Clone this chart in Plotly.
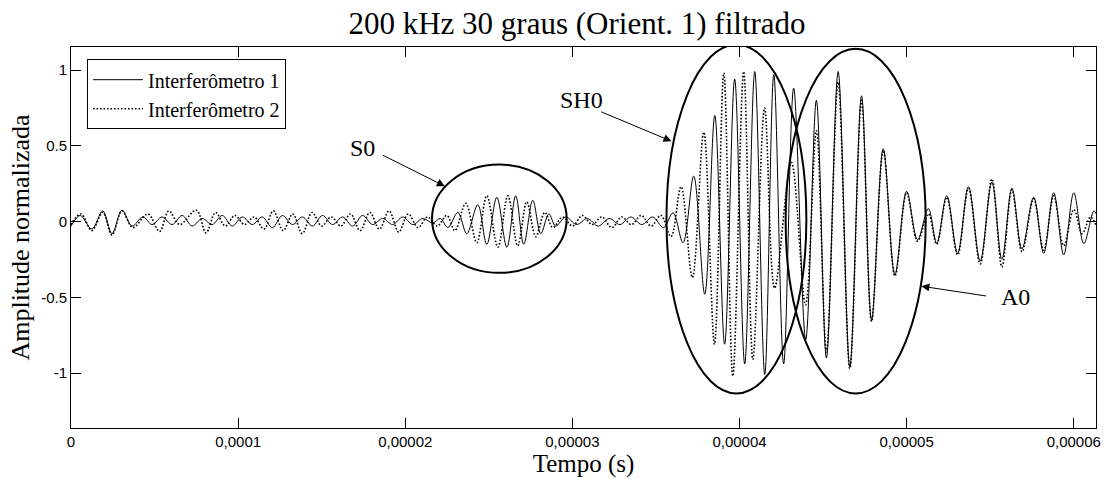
import numpy as np
import plotly.graph_objects as go

# ---- Data (time in microseconds, normalised amplitude) ----
# Interferômetro 1 (solid) – local extrema of the trace
t1_us = [0.0, 0.55, 1.25, 1.9, 2.45, 3.05, 3.65, 4.3, 4.85, 5.45, 6.05, 6.65, 7.25, 7.85,
         8.45, 9.05, 9.65, 10.25, 10.85, 11.45, 12.05, 12.65, 13.25, 13.85, 14.45, 15.05,
         15.65, 16.25, 16.85, 17.45, 18.05, 18.65, 19.25, 19.85, 20.45, 21.05, 21.65, 22.1,
         22.55, 23.15, 23.68, 24.34, 24.88, 25.48, 26.08, 26.61, 27.09, 27.63, 28.11, 28.59, 29.0,
         29.6, 30.25, 30.9, 31.55, 32.2, 32.85, 33.5, 34.15, 34.8, 35.45,
         36.02, 36.62, 37.26, 37.92, 38.52, 39.11, 39.71, 40.31, 40.91, 41.51,
         42.05, 42.64, 43.24, 43.96, 44.6, 45.2, 45.9, 46.6, 47.3, 47.9,
         48.6, 49.3, 50.0, 50.65, 51.3, 51.8, 52.4, 53.05, 53.7, 54.4,
         55.1, 55.7, 56.3, 56.9, 57.6, 58.2, 58.8, 59.4, 60.0, 60.6, 61.2, 61.35]
a1 = [-0.03, 0.04, -0.05, 0.07, -0.08, 0.075, -0.03, 0.03, -0.02, 0.03, -0.02, 0.04, -0.03, 0.02,
      -0.02, 0.04, -0.03, 0.03, -0.02, 0.03, -0.04, 0.04, -0.02, 0.03, -0.03, 0.04,
      -0.02, 0.03, -0.03, 0.04, -0.02, 0.02, -0.02, 0.03, -0.02, 0.02, -0.01, 0.02,
      -0.04, 0.06, -0.08, 0.11, -0.15, 0.16, -0.17, 0.17, -0.15, 0.14, -0.08, 0.05, -0.03,
      0.03, -0.02, 0.02, -0.03, 0.02, -0.02, 0.03, -0.02, 0.03, -0.04,
      0.057, -0.14, 0.30, -0.48, 0.70, -0.81, 0.94, -0.94, 0.99, -1.01,
      0.97, -0.94, 0.88, -0.78, 0.80, -0.90, 0.99, -0.96, 0.83, -0.65,
      0.48, -0.35, 0.20, -0.12, 0.085, -0.145, 0.17, -0.21, 0.23, -0.26,
      0.26, -0.25, 0.22, -0.18, 0.16, -0.21, 0.19, -0.22, 0.19, -0.145, 0.07, 0.05]

# Interferômetro 2 (dotted) – local extrema of the trace
t2_us = [0.0, 0.6, 1.25, 1.9, 2.45, 3.05, 3.7, 4.6, 5.3, 5.85, 6.5, 7.5,
         8.08, 8.65, 9.23, 9.81, 10.38, 10.96, 11.54, 12.11, 12.69, 13.27, 13.84, 14.42, 15.0,
         15.57, 16.15, 16.72, 17.30, 17.88, 18.45, 19.03, 19.61, 20.18, 20.76, 21.34, 21.91,
         22.49, 22.97, 23.62, 24.28, 24.88, 25.54, 26.14, 26.73, 27.27, 27.81, 28.35, 28.83,
         29.42, 30.01, 30.6, 31.18, 31.77, 32.36, 32.95, 33.54, 34.12, 34.71, 35.3,
         35.9, 36.5, 37.18, 37.86, 38.5, 39.06, 39.6, 40.25, 40.8, 41.5,
         42.1, 43.1, 43.95, 44.6, 45.2, 45.9, 46.6, 47.3, 47.9, 48.6,
         49.3, 50.0, 50.65, 51.3, 51.8, 52.4, 53.05, 53.7, 54.4, 55.1,
         55.7, 56.3, 56.9, 57.6, 58.2, 58.8, 59.4, 60.0, 60.5, 61.0, 61.35]
a2 = [-0.02, 0.05, -0.06, 0.06, -0.09, 0.07, -0.04, 0.05, -0.065, 0.07, -0.02, 0.075,
      -0.075, 0.06, -0.03, 0.04, -0.02, 0.03, -0.05, 0.07, -0.06, 0.05, -0.08, 0.06, -0.03,
      0.03, -0.03, 0.05, -0.06, 0.06, -0.05, 0.07, -0.07, 0.05, -0.04, 0.03, -0.03,
      0.04, -0.06, 0.12, -0.14, 0.17, -0.17, 0.17, -0.16, 0.13, -0.10, 0.06, -0.04,
      0.03, -0.03, 0.04, -0.02, 0.03, -0.04, 0.03, -0.02, 0.04, -0.03, 0.04,
      -0.10, 0.23, -0.37, 0.59, -0.81, 0.98, -1.02, 0.99, -0.91, 0.75,
      -0.44, 0.39, -0.55, 0.60, -0.86, 0.92, -0.97, 0.80, -0.66, 0.47,
      -0.36, 0.19, -0.13, 0.05, -0.15, 0.16, -0.22, 0.22, -0.28, 0.28,
      -0.30, 0.21, -0.20, 0.15, -0.19, 0.17, -0.16, 0.08, -0.08, 0.03, -0.03]

series_names = ["Interferômetro 1", "Interferômetro 2"]

x_tickvals = [0, 1e-5, 2e-5, 3e-5, 4e-5, 5e-5, 6e-5]
x_ticktext = ["0", "0,0001", "0,00002", "0,00003", "0,00004", "0,00005", "0,00006"]
y_tickvals = [-1, -0.5, 0, 0.5, 1]
y_ticktext = ["-1", "-0.5", "0", "0.5", "1"]

# Annotation ellipses (mode groups), in microseconds / amplitude
ellipse_labels = ["S0", "SH0", "A0"]
ellipse_t = [(21.6, 29.66), (35.63, 44.0), (42.76, 51.14)]
ellipse_a = [(-0.339, 0.376), (-1.135, 1.168), (-1.135, 1.14)]
label_pos = [(17.46, 0.488), (30.56, 0.805), (56.52, -0.495)]
arrow_tail = [(18.58, 0.442), (31.64, 0.728), (54.84, -0.493)]
arrow_head = [(22.37, 0.233), (35.93, 0.53), (50.88, -0.427)]

assert len(t1_us) == len(a1) and len(t2_us) == len(a2)
US = 1e-6

fig = go.Figure()
fig.add_trace(go.Scatter(x=np.array(t1_us) * US, y=a1, mode="lines", name=series_names[0],
                         line=dict(color="black", width=1, shape="spline", smoothing=1.0)))
fig.add_trace(go.Scatter(x=np.array(t2_us) * US, y=a2, mode="lines", name=series_names[1],
                         line=dict(color="black", width=1.6, dash="1.6px,1.9px",
                                   shape="spline", smoothing=1.0)))

shapes = []
for (t0, t1), (y0, y1) in zip(ellipse_t, ellipse_a):
    shapes.append(dict(type="circle", xref="x", yref="y", x0=t0 * US, x1=t1 * US,
                       y0=y0, y1=y1, line=dict(color="black", width=2)))

annotations = []
for lab, (lx, ly) in zip(ellipse_labels, label_pos):
    annotations.append(dict(x=lx * US, y=ly, xref="x", yref="y", text=lab, showarrow=False,
                            font=dict(family="Liberation Serif", size=24, color="black")))
for (hx, hy), (tx, ty) in zip(arrow_head, arrow_tail):
    annotations.append(dict(x=hx * US, y=hy, ax=tx * US, ay=ty, xref="x", yref="y",
                            axref="x", ayref="y", text="", showarrow=True, arrowhead=2,
                            arrowsize=1.6, arrowwidth=1, arrowcolor="black"))

tickfont = dict(family="Liberation Sans", size=15, color="black")
fig.update_layout(
    width=1105, height=479,
    margin=dict(l=71, r=9, t=47, b=51),
    paper_bgcolor="white", plot_bgcolor="white",
    title=dict(text="200 kHz 30 graus (Orient. 1) filtrado", x=0.4937, xref="paper",
               xanchor="center", y=0.952, yref="container", yanchor="middle",
               font=dict(family="Liberation Serif", size=31, color="black")),
    xaxis=dict(range=[0, 6.133e-5], tickvals=x_tickvals, ticktext=x_ticktext, automargin=False,
               ticks="inside", ticklen=10, tickcolor="black", showline=True, linecolor="black",
               linewidth=1, mirror="ticks", showgrid=False, zeroline=False, tickfont=tickfont,
               title=dict(text="Tempo (s)", standoff=5,
                          font=dict(family="Liberation Serif", size=25, color="black"))),
    yaxis=dict(range=[-1.363, 1.152], tickvals=y_tickvals, ticktext=y_ticktext, automargin=False,
               ticks="inside", ticklen=10, tickcolor="black", showline=True, linecolor="black",
               linewidth=1, mirror="ticks", showgrid=False, zeroline=False, tickfont=tickfont,
               title=dict(text="Amplitude normalizada", standoff=4,
                          font=dict(family="Liberation Serif", size=26, color="black"))),
    legend=dict(x=0.0156, y=0.968, xanchor="left", yanchor="top", bgcolor="white",
                bordercolor="black", borderwidth=1, tracegroupgap=0, itemwidth=50,
                font=dict(family="Liberation Serif", size=20, color="black")),
    shapes=shapes, annotations=annotations,
)

fig.write_html("out.html", config={"displayModeBar": False},
               post_script="document.body.style.margin='0px';")
